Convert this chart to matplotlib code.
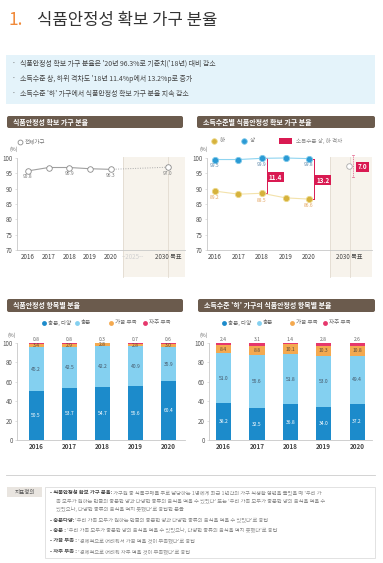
import matplotlib
matplotlib.use('Agg')
import matplotlib.pyplot as plt
from matplotlib.patches import Rectangle, FancyBboxPatch

plt.rcParams['font.family'] = ['Noto Sans CJK KR', 'DejaVu Sans']

# ---------------- data ----------------
years = ['2016', '2017', '2018', '2019', '2020']
total = [95.8, 96.9, 96.9, 96.5, 96.3]
total_target = 97.0
total_label_idx = [0, 2, 4]

low = [89.2, 88.2, 88.5, 87.0, 86.6]
high = [99.5, 99.5, 99.9, 100.0, 99.8]
label_idx = [0, 2, 4]
gap_idx = [2, 4]
gap_target = 7.0
target_center = 97.4

bar_cats = ['충분, 다양', '충분', '가끔 부족', '자주 부족']
all_suff_div = [50.5, 53.7, 54.7, 55.6, 60.4]
all_suff = [45.2, 42.5, 42.2, 40.9, 35.9]
all_some = [3.4, 2.9, 2.8, 2.8, 3.0]
all_often = [0.8, 0.8, 0.3, 0.7, 0.6]

low_suff_div = [38.2, 32.5, 36.8, 34.0, 37.2]
low_suff = [51.0, 55.6, 51.8, 53.0, 49.4]
low_some = [8.4, 8.8, 10.1, 10.3, 10.8]
low_often = [2.4, 3.1, 1.4, 2.8, 2.6]

bullets = ["식품안정성 확보 가구 분율은 '20년 96.3%로 기준치('18년) 대비 감소",
           "소득수준 상, 하위 격차도 '18년 11.4%p에서 13.2%p로 증가",
           "소득수준 '하' 가구에서 식품안정성 확보 가구 분율 지속 감소"]

# ---------------- style ----------------
W, H, DPI = 383, 563, 100
C_HEAD = '#6b5b4d'
C_SHADE = '#f7f3ec'
C_DARK = '#1c8bcb'
C_LIGHT = '#84d0f0'
C_ORANGE = '#f4a94f'
C_PINK = '#e6376c'
C_GAP = '#d91a52'
C_TXT = '#555555'

fig = plt.figure(figsize=(W / DPI, H / DPI), dpi=DPI)
fig.patch.set_facecolor('white')
bg = fig.add_axes([0, 0, 1, 1], zorder=0)
bg.set_xlim(0, W)
bg.set_ylim(H, 0)
bg.axis('off')


def add_ax(x0, y0, x1, y1):
    a = fig.add_axes([x0 / W, 1 - y1 / H, (x1 - x0) / W, (y1 - y0) / H], zorder=2)
    a.patch.set_alpha(0)
    return a


def header(x0, y0, x1, y1, text):
    bg.add_patch(FancyBboxPatch((x0, y0), x1 - x0, y1 - y0,
                                boxstyle='round,pad=0,rounding_size=2',
                                fc=C_HEAD, ec='none'))
    bg.text(x0 + 6, (y0 + y1) / 2, text, color='white', fontsize=5,
            fontweight='bold', va='center', ha='left')


def style_axes(a):
    for s in ['top', 'right']:
        a.spines[s].set_visible(False)
    for s in ['left', 'bottom']:
        a.spines[s].set_color('#c8c8c8')
        a.spines[s].set_linewidth(0.6)
    a.tick_params(axis='y', labelsize=4.5, colors='#c8c8c8', labelcolor=C_TXT,
                  length=1.5, width=0.4, pad=1.5)
    a.tick_params(axis='x', labelsize=4.5, length=0, pad=2.5, labelcolor='#444')


# ---------------- title ----------------
bg.text(8, 20, '1.', color='#f08a3a', fontsize=12.5, va='center', ha='left')
bg.text(37, 20, '식품안정성 확보 가구 분율', color='#333333', fontsize=12,
        va='center', ha='left', fontweight='medium')

bg.add_patch(Rectangle((6, 55), 369, 49, fc='#e4f3fa', ec='none'))
for k, t in enumerate(bullets):
    y = 64 + k * 15
    bg.text(12, y, '·', fontsize=5, color='#555', va='center')
    bg.text(20, y, t, fontsize=5, color='#444', va='center')

# ---------------- headers ----------------
header(7, 116, 183, 128, '식품안정성 확보 가구 분율')
header(197, 116, 375, 128, '소득수준별 식품안정성 확보 가구 분율')
header(7, 299, 183, 312, '식품안정성 항목별 분율')
header(198, 299, 375, 312, "소득수준 '하' 가구의 식품안정성 항목별 분율")

# ---------------- left line chart ----------------
axL = add_ax(17, 158, 185, 250)
xs = list(range(len(years)))
x2025, x2030 = 5.07, 6.76
axL.set_xlim(-0.53, 7.58)
axL.set_ylim(70, 100)
axL.add_patch(Rectangle((4.59, 61.2), 7.58 - 4.59, 100.4 - 61.2, fc=C_SHADE,
                        ec='none', clip_on=False, zorder=0))
for xv in [4.59, x2030]:
    axL.plot([xv, xv], [61.2, 100.4], color='#e2dbd0', lw=0.6, clip_on=False, zorder=1)
axL.plot([xs[-1], x2030], [total[-1], total_target], color='#aaaaaa', lw=0.7,
         ls=(0, (1, 1.5)), zorder=2)
axL.plot(xs, total, color='#a0a0a0', lw=0.8, marker='o', mfc='white', mec='#8a8a8a',
         ms=4, mew=0.6, zorder=3)
axL.plot([x2030], [total_target], marker='o', mfc='white', mec='#8a8a8a', ms=4,
         mew=0.6, zorder=3)
for i in total_label_idx:
    axL.text(xs[i], total[i] - 1.9, f'{total[i]:.1f}', fontsize=3.5, color='#777',
             ha='center', va='center')
axL.text(x2030, total_target - 1.9, f'{total_target:.1f}', fontsize=3.5, color='#777',
         ha='center', va='center')
style_axes(axL)
axL.set_yticks(range(70, 101, 5))
axL.set_xticks(xs + [x2025, x2030])
axL.set_xticklabels(years + ['--2025--', '2030 목표'])
axL.get_xticklabels()[5].set_color('#d0d0d0')
bg.text(10, 149, '(%)', fontsize=3.8, color='#666', va='center')
bg.plot([20], [142], marker='o', mfc='white', mec='#8a8a8a', ms=3.5, mew=0.6)
bg.text(25, 142, '전체가구', fontsize=4, color='#777', va='center')

# ---------------- right line chart ----------------
axR = add_ax(207, 158, 372, 250)
x2030R = 5.70
axR.set_xlim(-0.34, 6.68)
axR.set_ylim(70, 100)
axR.add_patch(Rectangle((4.89, 61.2), 6.68 - 4.89, 100.4 - 61.2, fc=C_SHADE,
                        ec='none', clip_on=False, zorder=0))
for xv in [4.89, 5.74]:
    axR.plot([xv, xv], [61.2, 100.4], color='#e2dbd0', lw=0.6, clip_on=False, zorder=1)
axR.plot(xs, high, color='#8fd4f0', lw=0.8, marker='o', mfc='#2b9ad4', mec='#7cc8ea',
         ms=4.5, mew=0.6, zorder=3, clip_on=False)
axR.plot(xs, low, color='#f3e2ab', lw=0.8, marker='o', mfc='#d6b23c', mec='#ecd88a',
         ms=4.5, mew=0.6, zorder=3)
for i in label_idx:
    axR.text(xs[i], high[i] - 2.0, f'{high[i]:.1f}', fontsize=3.5, color='#5a86a8',
             ha='center', va='center')
    axR.text(xs[i], low[i] - 2.2, f'{low[i]:.1f}', fontsize=3.5, color='#e3a35c',
             ha='center', va='center')
for i in gap_idx:
    xg = xs[i] + 0.22
    axR.plot([xg, xg], [low[i], high[i]], color=C_GAP, lw=0.7, zorder=2)
    axR.plot([xg - 0.1, xg], [high[i], high[i]], color=C_GAP, lw=0.7, zorder=2)
    axR.plot([xg - 0.1, xg], [low[i], low[i]], color=C_GAP, lw=0.7, zorder=2)
    mid = (high[i] + low[i]) / 2 - 0.4
    axR.text(xs[i] + 0.58, mid, f'{high[i] - low[i]:.1f}', fontsize=4.5, color='white',
             fontweight='bold', ha='center', va='center', zorder=4,
             bbox=dict(boxstyle='square,pad=0.25', fc=C_GAP, ec='none'))
xg = 5.87
axR.plot([xg, xg], [target_center - gap_target / 2, target_center + gap_target / 2],
         color='#e77a9c', lw=0.7, ls=(0, (1, 0.8)), zorder=2, clip_on=False)
for yy in [target_center - gap_target / 2, target_center + gap_target / 2]:
    axR.plot([xg - 0.06, xg + 0.06], [yy, yy], color='#e77a9c', lw=0.6, zorder=2,
             clip_on=False)
axR.plot([x2030R], [target_center], marker='o', mfc='white', mec='#aaaaaa', ms=4,
         mew=0.6, zorder=3)
axR.text(6.26, target_center - 0.3, f'{gap_target:.1f}', fontsize=4.5, color='white',
         fontweight='bold', ha='center', va='center', zorder=4,
         bbox=dict(boxstyle='square,pad=0.25', fc=C_GAP, ec='none'))
style_axes(axR)
axR.set_yticks(range(70, 101, 5))
axR.set_xticks(xs + [x2030R])
axR.set_xticklabels(years + ['2030 목표'])
bg.text(199, 149, '(%)', fontsize=3.8, color='#666', va='center')
bg.plot([214], [141], marker='o', mfc='#d6b23c', mec='#ecd88a', ms=4, mew=0.6)
bg.text(220, 141, '하', fontsize=4, color='#777', va='center')
bg.plot([244], [141], marker='o', mfc='#2b9ad4', mec='#7cc8ea', ms=4, mew=0.6)
bg.text(250, 141, '상', fontsize=4, color='#777', va='center')
bg.add_patch(Rectangle((279, 138), 13, 6, fc=C_GAP, ec='none'))
bg.text(296, 141, '소득수준 상, 하 격차', fontsize=4, color='#888', va='center')


# ---------------- stacked bar charts ----------------
def bar_chart(x0, x1, xlim, s_div, s_suf, s_some, s_often, lx, ptxt_x):
    a = add_ax(x0, 343, x1, 440)
    a.set_xlim(*xlim)
    a.set_ylim(0, 100)
    w = 0.45
    b1 = s_div
    b2 = [p + q for p, q in zip(s_div, s_suf)]
    b3 = [p + q for p, q in zip(b2, s_some)]
    a.bar(xs, s_div, w, color=C_DARK, zorder=2)
    a.bar(xs, s_suf, w, bottom=b1, color=C_LIGHT, zorder=2)
    a.bar(xs, s_some, w, bottom=b2, color=C_ORANGE, zorder=2)
    a.bar(xs, s_often, w, bottom=b3, color=C_PINK, zorder=2)
    for i in xs:
        a.text(i, s_div[i] / 2, f'{s_div[i]:.1f}', fontsize=3.6, color='white',
               ha='center', va='center', zorder=3)
        a.text(i, b1[i] + s_suf[i] / 2, f'{s_suf[i]:.1f}', fontsize=3.6, color='#445566',
               ha='center', va='center', zorder=3)
        a.text(i, b2[i] + max(s_some[i], 2.6) / 2, f'{s_some[i]:.1f}', fontsize=3.6,
               color='#5a4a3a', ha='center', va='center', zorder=3)
        a.text(i, 104, f'{s_often[i]:.1f}', fontsize=3.6, color='#666',
               ha='center', va='center', zorder=3)
    style_axes(a)
    a.set_yticks(range(0, 101, 20))
    a.set_xticks(xs)
    a.set_xticklabels(years, fontweight='bold')
    a.tick_params(axis='x', pad=2)
    bg.text(ptxt_x, 335, '(%)', fontsize=3.8, color='#666', va='center')
    cols = [C_DARK, C_LIGHT, C_ORANGE, C_PINK]
    for (cx, tx), lab, c in zip(lx, bar_cats, cols):
        bg.plot([cx], [323], marker='o', color=c, ms=3.5, mew=0)
        bg.text(tx, 323, lab, fontsize=4, color='#666', va='center')
    return a


bar_chart(17, 185, (-0.58, 4.5), all_suff_div, all_suff, all_some, all_often,
          [(44, 48), (77, 81), (111, 115), (145, 149)], 7)
bar_chart(209, 372, (-0.44, 4.45), low_suff_div, low_suff, low_some, low_often,
          [(224, 228), (259, 263), (292, 296), (325, 329)], 199)

# ---------------- definitions ----------------
bg.plot([6, 375], [475, 475], color='#cccccc', lw=0.6)
bg.add_patch(Rectangle((7, 487), 35, 10, fc='#e9e5e0', ec='none'))
bg.text(24.5, 492, '지표정의', fontsize=4, color='#555', ha='center', va='center')
bg.add_patch(Rectangle((45, 487), 330, 71, fc='none', ec='#dddddd', lw=0.6))

renderer = fig.canvas.get_renderer()
defs = [
    (492.7, 50, "- 식품안정성 확보 가구 분율:", " 가구원 중 식품구매를 주로 담당하는 1명에게 최근 1년간의 가구 식생활 형편을 물었을 때 '우리 가"),
    (501.0, 56, "", "족 모두가 원하는 만큼의 충분한 양과 다양한 종류의 음식을 먹을 수 있었다' 또는 '우리 가족 모두가 충분한 양의 음식을 먹을 수"),
    (509.3, 56, "", "있었으나, 다양한 종류의 음식을 먹지 못했다'로 응답한 분율"),
    (520.0, 50, "- 충분다양:", " '우리 가족 모두가 원하는 만큼의 충분한 양과 다양한 종류의 음식을 먹을 수 있었다'로 응답"),
    (530.7, 50, "- 충분 :", " '우리 가족 모두가 충분한 양의 음식을 먹을 수 있었으나, 다양한 종류의 음식을 먹지 못했다'로 응답"),
    (540.7, 50, "- 가끔 부족 :", " '경제적으로 어려워서 가끔 먹을 것이 부족했다'로 응답"),
    (551.7, 50, "- 자주 부족 :", " '경제적으로 어려워 자주 먹을 것이 부족했다'로 응답"),
]
for y, x, bold, rest in defs:
    xn = x
    if bold:
        t = bg.text(x, y, bold, fontsize=3.8, color='#4a4a4a', fontweight='bold',
                    va='center', ha='left')
        bb = t.get_window_extent(renderer)
        xn = bg.transData.inverted().transform((bb.x1, bb.y0))[0]
    bg.text(xn, y, rest, fontsize=3.8, color='#8a8a8a', va='center', ha='left')

fig.savefig('out.png', dpi=DPI, facecolor='white')
